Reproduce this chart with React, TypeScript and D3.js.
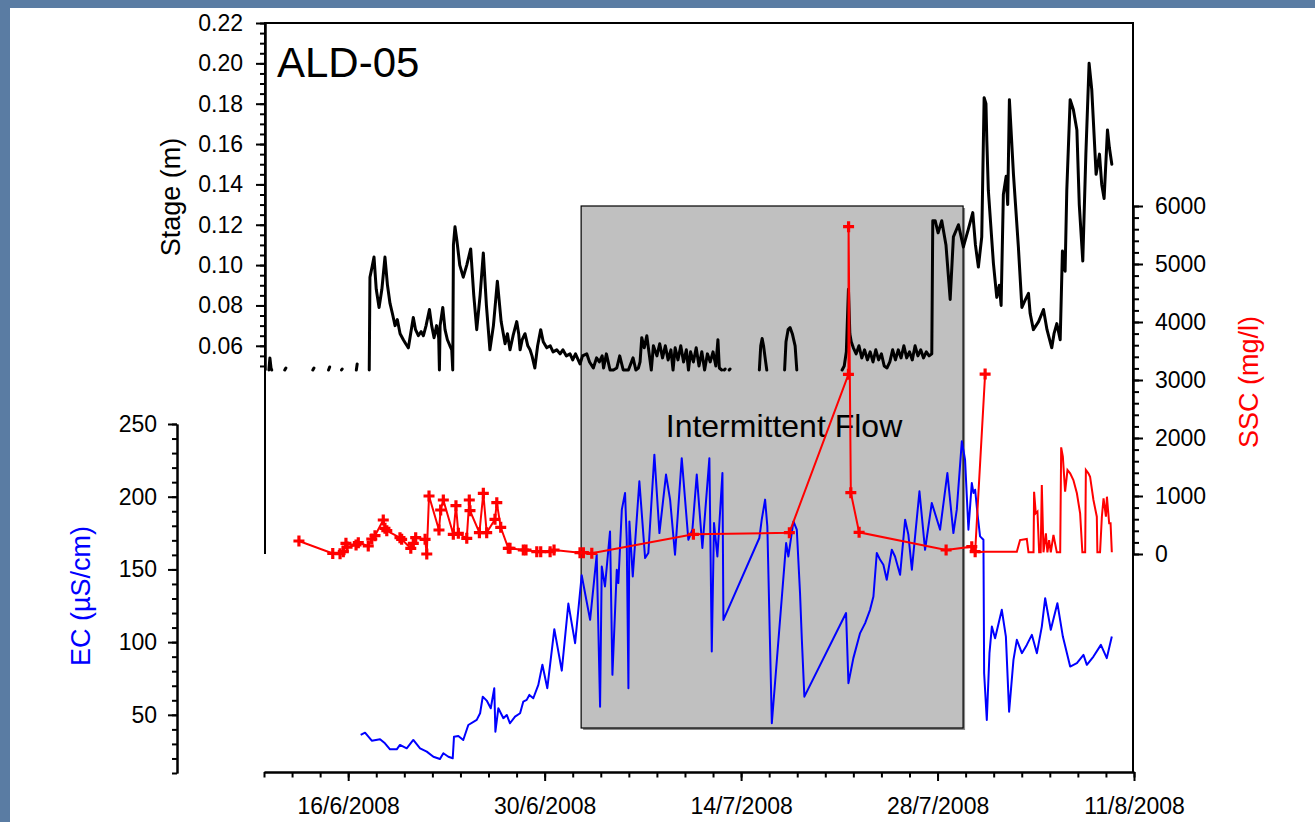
import React, { Component } from 'react'
import * as d3 from 'd3'

const WIDTH = 1315
const HEIGHT = 822
const FONT = "'Liberation Sans', Arial, Helvetica, sans-serif"

// all series are keyed by days after 10/6/2008
const startDate = new Date(2008, 5, 10)
const endDate = new Date(2008, 7, 11)

const stageTicks = [0.06, 0.08, 0.1, 0.12, 0.14, 0.16, 0.18, 0.2, 0.22]
const ecTicks = [50, 100, 150, 200, 250]
const sscTicks = [0, 1000, 2000, 3000, 4000, 5000, 6000]
const dateTicks = [6, 20, 34, 48, 62]

// intermittent flow period (days)
const intermittent = [22.6, 49.82]

// stage (m), null = no record
const stage: [number, number | null][] = [
  [0.35, 0.048], [0.42, 0.054], [0.5, 0.049], [0.55, 0.048], [0.6, null],
  [1.48, 0.048], [1.56, 0.049], [1.6, null],
  [3.48, 0.048], [3.56, 0.049], [3.6, null],
  [4.6, 0.048], [4.68, 0.0495], [4.72, null],
  [5.52, 0.048], [5.57, 0.0485], [5.6, null],
  [6.58, 0.048], [6.64, 0.051], [6.68, null],
  [7.5, 0.048], [7.55, 0.094], [7.7, 0.099], [7.84, 0.104], [8.0, 0.088], [8.2, 0.079],
  [8.4, 0.088], [8.62, 0.104], [8.8, 0.09], [8.98, 0.081], [9.15, 0.076], [9.34, 0.07],
  [9.5, 0.073], [9.7, 0.066], [9.93, 0.063], [10.1, 0.061], [10.29, 0.059], [10.45, 0.066],
  [10.64, 0.074], [10.8, 0.068], [11.0, 0.065], [11.2, 0.067], [11.36, 0.065], [11.55, 0.07],
  [11.79, 0.078], [11.95, 0.07], [12.12, 0.064], [12.3, 0.07], [12.45, 0.064], [12.5, 0.048],
  [12.55, 0.07], [12.74, 0.079], [12.9, 0.068], [13.07, 0.063], [13.25, 0.06], [13.38, 0.058],
  [13.45, 0.048], [13.5, 0.11], [13.61, 0.119], [13.75, 0.112], [13.95, 0.1], [14.2, 0.094],
  [14.45, 0.1], [14.73, 0.108], [14.95, 0.085], [15.16, 0.068], [15.4, 0.085], [15.63, 0.106],
  [15.85, 0.08], [16.1, 0.058], [16.35, 0.07], [16.63, 0.092], [16.9, 0.072], [17.18, 0.061],
  [17.35, 0.066], [17.53, 0.058], [17.75, 0.065], [18.01, 0.072], [18.15, 0.066], [18.25, 0.058],
  [18.4, 0.063], [18.6, 0.066], [18.8, 0.06], [18.96, 0.058], [19.1, 0.055], [19.3, 0.049],
  [19.5, 0.06], [19.72, 0.068], [19.9, 0.062], [20.15, 0.059], [20.4, 0.06], [20.6, 0.057],
  [20.86, 0.058], [21.1, 0.056], [21.3, 0.058], [21.55, 0.055], [21.81, 0.056], [22.0, 0.053],
  [22.2, 0.056], [22.52, 0.051], [22.7, 0.055], [23.0, 0.056], [23.2, 0.052], [23.47, 0.049],
  [23.7, 0.054], [23.9, 0.052], [24.1, 0.055], [24.2, 0.049], [24.4, 0.056], [24.66, 0.048],
  [24.9, 0.048], [25.14, 0.049], [25.35, 0.055], [25.6, 0.048], [25.97, 0.048], [26.3, 0.054],
  [26.5, 0.048], [26.68, 0.049], [26.8, 0.052], [26.92, 0.064], [27.1, 0.059], [27.28, 0.065],
  [27.45, 0.056], [27.6, 0.048], [27.75, 0.06], [28.0, 0.055], [28.2, 0.061], [28.4, 0.054],
  [28.6, 0.06], [28.8, 0.053], [29.0, 0.058], [29.15, 0.048], [29.3, 0.059], [29.5, 0.053],
  [29.7, 0.06], [29.9, 0.052], [30.1, 0.058], [30.25, 0.048], [30.4, 0.057], [30.6, 0.052],
  [30.8, 0.059], [31.0, 0.05], [31.2, 0.057], [31.4, 0.048], [31.6, 0.056], [31.8, 0.052],
  [32.0, 0.057], [32.2, 0.05], [32.35, 0.063], [32.45, 0.049], [32.62, 0.048], [32.66, null],
  [32.8, 0.048], [32.86, 0.0485], [32.9, null],
  [33.15, 0.048], [33.21, 0.0485], [33.25, null],
  [35.3, 0.048], [35.4, 0.06], [35.5, 0.0636], [35.6, 0.06], [35.75, 0.052], [35.83, 0.048], [35.9, null],
  [37.1, 0.048], [37.2, 0.062], [37.35, 0.068], [37.49, 0.069], [37.65, 0.066], [37.85, 0.06],
  [37.97, 0.048], [38.0, null],
  [41.2, 0.048], [41.35, 0.05], [41.5, 0.057], [41.65, 0.088], [41.75, 0.066], [41.85, 0.062],
  [42.0, 0.059], [42.2, 0.056], [42.4, 0.06], [42.6, 0.054], [42.8, 0.058], [43.0, 0.053],
  [43.2, 0.057], [43.4, 0.052], [43.6, 0.058], [43.8, 0.053], [44.0, 0.056], [44.2, 0.05],
  [44.4, 0.049], [44.6, 0.052], [44.8, 0.058], [45.0, 0.053], [45.2, 0.058], [45.4, 0.054],
  [45.6, 0.06], [45.8, 0.054], [46.0, 0.057], [46.2, 0.053], [46.4, 0.06], [46.6, 0.055],
  [46.8, 0.058], [47.0, 0.054], [47.2, 0.057], [47.4, 0.055], [47.59, 0.056], [47.66, 0.122],
  [47.83, 0.122], [48.04, 0.116], [48.3, 0.122], [48.6, 0.11], [48.9, 0.083], [49.13, 0.114],
  [49.49, 0.12], [49.84, 0.109], [50.2, 0.118], [50.51, 0.126], [50.7, 0.11], [50.91, 0.099],
  [51.15, 0.114], [51.32, 0.183], [51.45, 0.18], [51.51, 0.162], [51.62, 0.137], [51.98, 0.101],
  [52.22, 0.084], [52.4, 0.09], [52.53, 0.08], [52.69, 0.135], [52.89, 0.144], [53.0, 0.13],
  [53.12, 0.182], [53.41, 0.145], [53.76, 0.109], [54.01, 0.079], [54.2, 0.082], [54.48, 0.086],
  [54.6, 0.076], [54.83, 0.068], [55.2, 0.072], [55.55, 0.078], [55.8, 0.068], [56.14, 0.059],
  [56.3, 0.066], [56.5, 0.071], [56.74, 0.063], [56.9, 0.107], [57.09, 0.097], [57.21, 0.137],
  [57.45, 0.182], [57.68, 0.177], [57.93, 0.167], [58.1, 0.13], [58.35, 0.102], [58.57, 0.155],
  [58.8, 0.2], [58.99, 0.187], [59.3, 0.145], [59.54, 0.155], [59.7, 0.14], [59.87, 0.133],
  [60.11, 0.167], [60.25, 0.158], [60.42, 0.15]
]

// EC (uS/cm)
const ec: [number, number][] = [
  [6.89, 36.2], [7.2, 37.7], [7.68, 32.2], [8.27, 33.2], [8.62, 30.4], [8.98, 26.3], [9.46, 26.3],
  [9.69, 29.3], [10.17, 27.0], [10.64, 32.7], [11.12, 27], [11.6, 24.7], [12.07, 21.2], [12.54, 19.6],
  [12.78, 23.6], [13.14, 21.2], [13.45, 20.1], [13.54, 35], [13.85, 35.5], [14.2, 32.7], [14.56, 43],
  [15.16, 46.5], [15.4, 51.1], [15.59, 62.5], [15.87, 59.8], [16.16, 54.5], [16.41, 68.3], [16.49, 38.4],
  [16.7, 54.5], [17.06, 47.7], [17.3, 49.9], [17.53, 44.2], [17.89, 48.8], [18.25, 51.1], [18.48, 59.1],
  [18.72, 60.3], [18.91, 63.7], [19.19, 61.4], [19.55, 70.6], [19.84, 84.4], [20.19, 68.3], [20.69, 108.9],
  [21.22, 80.4], [21.69, 126.5], [22.17, 99.3], [22.64, 146], [23.24, 115.3], [23.71, 160.1], [23.95, 55.6],
  [24.07, 152], [24.3, 138.3], [24.66, 176.1], [24.83, 77.5], [25.14, 149.8], [25.25, 140.6], [25.5, 191.1],
  [25.73, 202.6], [25.85, 170.4], [25.97, 68.3], [26.04, 183], [26.28, 145.1], [26.51, 177.3], [26.75, 210.6],
  [27.16, 157.8], [27.39, 161.3], [27.82, 228.9], [28.18, 175], [28.65, 215.2], [28.94, 198], [29.29, 160.1],
  [29.77, 226.5], [30.24, 170.4], [30.53, 177.3], [30.84, 215.2], [31.24, 164.7], [31.74, 226.5], [31.91, 93.5],
  [32.07, 181.9], [32.31, 158.9], [32.67, 216.3], [32.74, 115.3], [35.3, 171.6], [35.47, 184.2], [35.71, 198],
  [35.87, 179.6], [36.19, 44.2], [37.21, 168.1], [37.37, 158.9], [37.73, 183], [37.97, 177.3], [38.2, 133.7],
  [38.33, 101.6], [38.51, 62.5], [41.48, 120], [41.65, 71.8], [42.0, 89], [42.48, 106.2], [42.84, 113.1],
  [43.19, 122.2], [43.43, 131.4], [43.67, 161.3], [43.91, 156.6], [44.14, 153.2], [44.38, 142.9], [44.74, 163.5],
  [44.97, 158.9], [45.33, 146.3], [45.69, 184.2], [45.92, 173.9], [46.17, 149.8], [46.71, 203.7], [47.11, 163.5],
  [47.59, 195.7], [48.18, 177.3], [48.7, 216.3], [49.13, 175], [49.37, 191.1], [49.73, 238.1], [49.96, 225.5],
  [50.2, 177.3], [50.44, 209.4], [50.56, 202.6], [50.68, 204.8], [50.84, 188.8], [51.03, 172.7], [51.27, 170.4],
  [51.32, 78.6], [51.51, 46.5], [51.7, 92.4], [51.87, 110.7], [52.1, 102.7], [52.58, 122.2], [52.87, 103.8],
  [53.1, 52.2], [53.41, 87.8], [53.65, 101.6], [54.01, 92.4], [54.36, 98.1], [54.72, 105], [55.08, 92.4],
  [55.43, 110.7], [55.67, 130.2], [56.07, 108.5], [56.54, 126.8], [56.93, 103.8], [57.45, 83.2], [57.93, 85.5],
  [58.4, 91.2], [58.64, 84.4], [59.11, 90.1], [59.64, 98.1], [60.06, 89], [60.42, 103.8]
]

// SSC grab samples (mg/l)
const sscSamples: [number, number][] = [
  [2.49, 224], [4.9, 10], [5.42, 5], [5.65, 40], [5.84, 184], [5.92, 120], [6.56, 155], [6.72, 195],
  [7.43, 138], [7.68, 259], [7.91, 316], [8.5, 586], [8.62, 443], [8.75, 402], [9.69, 281], [9.81, 253],
  [10.46, 98], [10.64, 184], [10.81, 281], [11.48, 253], [11.6, 0], [11.76, 1000], [12.47, 414],
  [12.59, 759], [12.78, 931], [13.49, 340], [13.68, 833], [13.85, 357], [14.45, 271], [14.63, 931],
  [14.68, 747], [15.35, 368], [15.63, 1046], [15.87, 368], [16.46, 598], [16.59, 885], [16.87, 460],
  [17.41, 98], [17.53, 98], [18.48, 69], [18.67, 69], [19.44, 40], [19.72, 40], [20.39, 40], [20.67, 69],
  [22.52, 22], [22.76, 22], [23.36, 12], [30.6, 340], [37.44, 367], [41.65, 3098], [41.66, 5643],
  [41.82, 1057], [42.41, 374], [48.61, 69], [50.44, 126], [50.68, 40], [51.39, 3103]
]

// SSC continuous record (mg/l)
const sscRecord: [number, number][] = [
  [50.9, 30], [51.27, 40], [53.65, 40], [53.88, 241], [54.36, 259], [54.48, 29], [54.84, 29],
  [54.88, 1074], [55.0, 701], [55.12, 730], [55.24, 29], [55.35, 29], [55.43, 1190], [55.55, 29],
  [55.72, 357], [55.83, 29], [55.95, 241], [56.07, 29], [56.26, 328], [56.5, 29], [56.74, 29],
  [56.81, 1839], [56.93, 1678], [57.09, 1074], [57.26, 1448], [57.45, 1391], [57.68, 1276],
  [57.93, 1046], [58.16, 701], [58.32, 29], [58.52, 29], [58.57, 1448], [58.75, 1391], [58.87, 1333],
  [59.11, 931], [59.35, 643], [59.39, 29], [59.58, 29], [59.71, 643], [59.83, 960], [60.0, 643],
  [60.07, 988], [60.23, 529], [60.33, 529], [60.42, 29]
]

const day = (d: number) => new Date(startDate.getTime() + d * 86400000)

export default class App extends Component {
  svgRef = React.createRef<SVGSVGElement>()

  componentDidMount() {
    this.draw()
  }

  // axis styling shared by all four axes
  styleAxis(g: any, color = '#000') {
    g.attr('font-family', FONT).attr('font-size', 23)
    g.selectAll('path').attr('stroke', color).attr('stroke-width', 2)
    g.selectAll('line').attr('stroke', color).attr('stroke-width', 2)
    g.selectAll('text').attr('fill', '#000')
  }

  draw() {
    const svg = d3.select(this.svgRef.current)
    svg.selectAll('*').remove()

    // slide background + white panel
    svg.append('rect').attr('width', WIDTH).attr('height', HEIGHT).attr('fill', '#5a7ca3')
    svg.append('rect').attr('x', 10).attr('y', 8)
      .attr('width', WIDTH - 10).attr('height', HEIGHT - 8).attr('fill', '#fff')

    const x = d3.scaleTime().domain([startDate, endDate]).range([264, 1134])
    const yStage = d3.scaleLinear().domain([0.048, 0.22]).range([370, 23])
    const yEC = d3.scaleLinear().domain([10, 250]).range([773, 424])
    const ySSC = d3.scaleLinear().domain([0, 6000]).range([554, 206])

    // intermittent flow box
    const bx0 = x(day(intermittent[0]))
    const bx1 = x(day(intermittent[1]))
    const by0 = ySSC(6000)
    const by1 = ySSC(-3000)
    svg.append('rect').attr('x', bx0 + 2).attr('y', by0 + 2)
      .attr('width', bx1 - bx0).attr('height', by1 - by0).attr('fill', '#8c8c8c')
    svg.append('rect').attr('x', bx0).attr('y', by0)
      .attr('width', bx1 - bx0).attr('height', by1 - by0)
      .attr('fill', '#c0c0c0').attr('stroke', '#000').attr('stroke-width', 1.2)
    svg.append('text').attr('x', 784).attr('y', 437)
      .attr('text-anchor', 'middle').attr('font-family', FONT).attr('font-size', 32)
      .attr('fill', '#000').text('Intermittent Flow')

    // frame
    svg.append('path')
      .attr('d', 'M265,554V23H1133V772')
      .attr('fill', 'none').attr('stroke', '#000').attr('stroke-width', 2)

    // stage axis
    let g = svg.append('g').attr('transform', 'translate(265,0)')
      .call(d3.axisLeft(yStage).tickValues(d3.range(0.05, 0.2201, 0.005)).tickSize(5).tickSizeOuter(0).tickFormat(() => ''))
    this.styleAxis(g)
    g = svg.append('g').attr('transform', 'translate(265,0)')
      .call(d3.axisLeft(yStage).tickValues(stageTicks).tickSize(9).tickSizeOuter(0).tickPadding(13).tickFormat(d3.format('.2f')))
    this.styleAxis(g)

    // EC axis
    g = svg.append('g').attr('transform', 'translate(177,0)')
      .call(d3.axisLeft(yEC).tickValues(d3.range(10, 251, 10)).tickSize(5).tickSizeOuter(0).tickFormat(() => ''))
    this.styleAxis(g)
    g = svg.append('g').attr('transform', 'translate(177,0)')
      .call(d3.axisLeft(yEC).tickValues(ecTicks).tickSize(9).tickSizeOuter(0).tickPadding(11))
    this.styleAxis(g)

    // SSC axis
    g = svg.append('g').attr('transform', 'translate(1133,0)')
      .call(d3.axisRight(ySSC).tickValues(d3.range(0, 6001, 200)).tickSize(6).tickSizeOuter(0).tickFormat(() => ''))
    this.styleAxis(g)
    g = svg.append('g').attr('transform', 'translate(1133,0)')
      .call(d3.axisRight(ySSC).tickValues(sscTicks).tickSize(10).tickSizeOuter(0).tickPadding(12).tickFormat(d3.format('d')))
    this.styleAxis(g)

    // date axis
    g = svg.append('g').attr('transform', 'translate(0,772)')
      .call(d3.axisBottom(x).tickValues(d3.range(0, 63, 2).map(day)).tickSize(5.5).tickSizeOuter(0).tickFormat(() => ''))
    this.styleAxis(g)
    g = svg.append('g').attr('transform', 'translate(0,772)')
      .call(d3.axisBottom(x).tickValues(dateTicks.map(day)).tickSize(9).tickSizeOuter(0).tickPadding(16.5)
        .tickFormat(d3.timeFormat('%-d/%-m/%Y') as any))
    this.styleAxis(g)

    // axis titles
    const title = (cx: number, cy: number, label: string, color: string) => {
      svg.append('text')
        .attr('transform', 'translate(' + cx + ',' + cy + ') rotate(-90)')
        .attr('text-anchor', 'middle').attr('dy', '0.35em')
        .attr('font-family', FONT).attr('font-size', 27)
        .attr('fill', color).text(label)
    }
    title(171, 197, 'Stage (m)', '#000')
    title(81, 596, 'EC (\u00b5S/cm)', '#0000ff')
    title(1249, 382, 'SSC (mg/l)', '#ff0000')

    svg.append('text').attr('x', 277).attr('y', 77)
      .attr('font-family', FONT).attr('font-size', 42).attr('fill', '#000').text('ALD-05')

    // series
    const stageLine = d3.line<[number, number | null]>()
      .defined(d => d[1] !== null)
      .x(d => x(day(d[0])))
      .y(d => yStage(d[1] as number))
    svg.append('path').datum(stage).attr('d', stageLine)
      .attr('fill', 'none').attr('stroke', '#000').attr('stroke-width', 3)
      .attr('stroke-linejoin', 'round').attr('stroke-linecap', 'round')

    const ecLine = d3.line<[number, number]>().x(d => x(day(d[0]))).y(d => yEC(d[1]))
    svg.append('path').datum(ec).attr('d', ecLine)
      .attr('fill', 'none').attr('stroke', '#0000ff').attr('stroke-width', 2)
      .attr('stroke-linejoin', 'round')

    const sscLine = d3.line<[number, number]>().x(d => x(day(d[0]))).y(d => ySSC(d[1]))
    svg.append('path').datum(sscRecord).attr('d', sscLine)
      .attr('fill', 'none').attr('stroke', '#ff0000').attr('stroke-width', 2)
    svg.append('path').datum(sscSamples).attr('d', sscLine)
      .attr('fill', 'none').attr('stroke', '#ff0000').attr('stroke-width', 2)

    svg.append('g').selectAll('path')
      .data(sscSamples)
      .enter()
      .append('path')
      .attr('transform', d => 'translate(' + x(day(d[0])) + ',' + ySSC(d[1]) + ')')
      .attr('d', 'M-5.5,0H5.5M0,-5.5V5.5')
      .attr('stroke', '#ff0000').attr('stroke-width', 3.2)
  }

  render() {
    return (
      <svg ref={this.svgRef} width={WIDTH} height={HEIGHT}
        style={{ position: 'absolute', left: 0, top: 0 }} />
    )
  }
}
